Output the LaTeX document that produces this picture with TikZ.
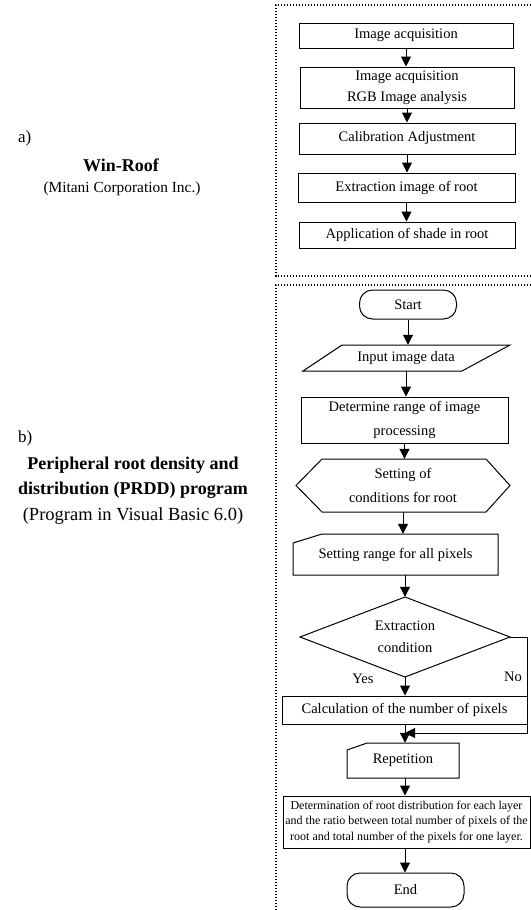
\documentclass[tikz,border=0pt]{standalone}
\usepackage{fontspec}
\setmainfont{Liberation Serif}
\usetikzlibrary{arrows.meta}
\begin{document}
\begin{tikzpicture}[x=1pt,y=-1pt,
  lw/.style={line width=1pt},
  box/.style={draw, lw, inner sep=0pt, align=center, font=\fontsize{14.5}{21}\selectfont},
  txt/.style={inner sep=0pt, align=center, font=\fontsize{14.5}{21}\selectfont},
  term/.style={box, rounded corners=13pt},
  shapeline/.style={lw, line join=miter},
  arr/.style={lw, -{Triangle[width=10pt,length=10pt]}},
  frame/.style={line width=1.6pt, dash pattern=on 1.4pt off 1.6pt},
  side/.style={inner sep=0pt, align=center},
]
\useasboundingbox (0,0) rectangle (530,910);

% ---- dotted frames
\draw[frame] (531,5) -- (276,5) -- (276,276) -- (531,276);
\draw[frame] (531,285) -- (276,285) -- (276,911);

% ---- left labels
\node[side, anchor=west, font=\fontsize{17}{20}\selectfont] (la) at (18,138) {a)};
\node[side, font=\bfseries\fontsize{18}{22}\selectfont] (lwin) at (121,165) {Win-Roof};
\node[side, font=\fontsize{15.4}{18}\selectfont] (lmit) at (122,189) {(Mitani Corporation Inc.)};

\node[side, anchor=west, font=\fontsize{17}{20}\selectfont] (lb) at (18,438) {b)};
\node[side, font=\bfseries\fontsize{18}{25.5}\selectfont] (lprdd) at (133,477.5) {Peripheral root density and\\distribution (PRDD) program};
\node[side, font=\fontsize{18.5}{22}\selectfont] (lvb) at (133,516) {(Program in Visual Basic 6.0)};

% ---- a) Win-Roof flow
\node[box, minimum width=214pt, minimum height=25pt] (a1) at (406,35.5) {Image acquisition};
\node[box, minimum width=214pt, minimum height=41pt] (a2) at (407,87.5) {Image acquisition\\RGB Image analysis};
\node[box, minimum width=216pt, minimum height=31pt] (a3) at (407,138.5) {Calibration Adjustment};
\node[box, minimum width=217pt, minimum height=29pt] (a4) at (406.5,187.5) {Extraction image of root};
\node[box, minimum width=216pt, minimum height=26pt] (a5) at (407,235) {Application of shade in root};

\draw[arr] (a1.south) -- (a1.south |- a2.north);
\draw[arr] (a2.south) -- (a2.south |- a3.north);
\draw[arr] (a3.south) -- (a3.south |- a4.north);
\draw[arr] (a4.south) -- (a4.south |- a5.north);

% ---- b) PRDD flow
\node[term, minimum width=97pt, minimum height=29pt] (st) at (408,304.5) {Start};

\node[txt, minimum width=150pt, minimum height=26pt] (inp) at (406,358) {Input image data};
\draw[shapeline] (303,371) -- (462,371) -- (510,345) -- (342,345) -- cycle;

\node[box, minimum width=207pt, minimum height=46pt, font=\fontsize{14.5}{24}\selectfont] (det) at (404.5,420) {Determine range of image\\processing};

\node[txt, minimum width=214pt, minimum height=53pt, font=\fontsize{14.5}{24}\selectfont] (hex) at (403,485.5) {Setting of\\conditions for root};
\draw[shapeline] (296,485.5) -- (322,459) -- (486,459) -- (510,485.5) -- (486,512) -- (322,512) -- cycle;

\node[txt, minimum width=205pt, minimum height=41pt] (rng) at (395.5,554.5) {Setting range for all pixels};
\draw[shapeline] (293,575) -- (293,543) -- (322,534) -- (498,534) -- (498,575) -- cycle;

\node[txt, minimum width=210pt, minimum height=80pt, font=\fontsize{14.5}{22}\selectfont] (dia) at (405,637) {Extraction\\condition};
\draw[shapeline] (405,597) -- (510,637) -- (405,677) -- (300,637) -- cycle;

\node[side, font=\fontsize{14.5}{18}\selectfont] (yes) at (363,679) {Yes};
\node[side, font=\fontsize{14.5}{18}\selectfont] (no) at (513,677) {No};

\node[box, minimum width=245pt, minimum height=28pt] (calc) at (404.5,710) {Calculation of the number of pixels};

\node[txt, minimum width=112pt, minimum height=35pt] (rep) at (403,760.5) {Repetition};
\draw[shapeline] (347,778) -- (347,750) -- (367,743) -- (459,743) -- (459,778) -- cycle;

\node[box, minimum width=247pt, minimum height=52pt, font=\fontsize{12}{15.5}\selectfont] (fin) at (406.5,822) {Determination of root distribution for each layer\\and the ratio between total number of pixels of the\\root and total number of the pixels for one layer.};

\node[term, minimum width=117pt, minimum height=34pt] (en) at (405.5,890) {End};

\coordinate (merge) at (405,733);
\coordinate (nocorner) at (527,733);

\draw[arr] (st.south) -- (st.south |- inp.north);
\draw[arr] (inp.south) -- (inp.south |- det.north);
\draw[arr] (det.south) -- (det.south |- hex.north);
\draw[arr] (hex.south) -- (hex.south |- rng.north);
\draw[arr] (rng.south -| dia.north) -- (dia.north);
\draw[arr] (dia.south) -- (dia.south |- calc.north);
\draw[arr] (calc.south -| merge) -- (merge |- rep.north);
\draw[arr] (dia.east) -| (nocorner) -- (merge);
\draw[arr] (rep.south -| merge) -- (merge |- fin.north);
\draw[arr] (fin.south -| merge) -- (merge |- en.north);
\end{tikzpicture}
\end{document}
